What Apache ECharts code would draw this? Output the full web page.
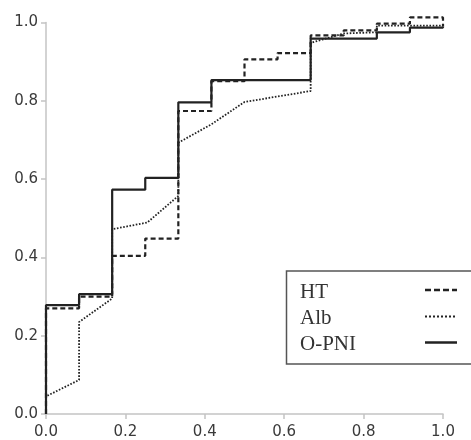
<!DOCTYPE html>
<html lang="en" style="height: 100%">
<head>
  <meta charset="utf-8">
</head>
<body style="height: 100%; margin: 0; background: #fff">
  <div id="container" style="width: 471px; height: 440px"></div>

  <script type="text/javascript" src="https://fastly.jsdelivr.net/npm/echarts@6/dist/echarts.min.js"></script>
  <script type="text/javascript">
    // axis ticks
    var axisTicks = [0, 0.2, 0.4, 0.6, 0.8, 1.0];

    // HT : step points (x where the step happens, new y)
    var htX = [0, 0, 1/12, 2/12, 3/12, 4/12, 5/12, 6/12, 7/12, 8/12, 9/12, 10/12, 11/12, 1];
    var htY = [0, 0.270, 0.300, 0.404, 0.448, 0.774, 0.850, 0.906, 0.922, 0.967, 0.980, 0.997, 1.013, 0.990];

    // O-PNI : step points
    var opniX = [0, 0, 1/12, 2/12, 3/12, 4/12, 5/12, 8/12, 10/12, 11/12, 1];
    var opniY = [0, 0.278, 0.306, 0.573, 0.603, 0.796, 0.853, 0.959, 0.975, 0.987, 0.990];

    // Alb : polyline (ties give sloped parts)
    var albX = [0, 0, 1/12, 1/12, 2/12, 2/12, 0.255, 4/12, 4/12, 5/12, 0.5, 8/12, 8/12, 9/12, 10/12, 10/12, 1];
    var albY = [0, 0.045, 0.087, 0.235, 0.295, 0.472, 0.489, 0.557, 0.693, 0.740, 0.797, 0.825, 0.948, 0.972, 0.975, 0.992, 0.992];

    var legendNames = ['HT', 'Alb', 'O-PNI'];

    function pairs(xs, ys) {
      return xs.map(function (x, i) { return [x, ys[i]]; });
    }

    var lineColor = '#222';
    var axisColor = '#c4c4c4';
    var labelStyle = {
      color: '#3a3a3a',
      fontFamily: 'DejaVu Sans',
      fontSize: 15,
      formatter: function (v) { return v.toFixed(1); }
    };

    var dom = document.getElementById('container');
    var myChart = echarts.init(dom, null, { renderer: 'canvas' });

    var option = {
      animation: false,
      backgroundColor: '#fff',
      grid: { left: 46, top: 22.5, width: 397, height: 392.5 },
      xAxis: {
        type: 'value',
        min: axisTicks[0],
        max: axisTicks[axisTicks.length - 1],
        interval: 0.2,
        axisLine: { show: true, lineStyle: { color: axisColor, width: 1.5 } },
        axisTick: { show: true, length: 5, lineStyle: { color: axisColor, width: 1.5 } },
        axisLabel: Object.assign({ margin: 11 }, labelStyle),
        splitLine: { show: false }
      },
      yAxis: {
        type: 'value',
        min: axisTicks[0],
        max: axisTicks[axisTicks.length - 1],
        interval: 0.2,
        axisLine: { show: true, lineStyle: { color: axisColor, width: 1.5 } },
        axisTick: { show: true, length: 5, lineStyle: { color: axisColor, width: 1.5 } },
        axisLabel: Object.assign({ margin: 8 }, labelStyle),
        splitLine: { show: false }
      },
      series: [
        {
          name: legendNames[0],
          type: 'line',
          step: 'end',
          clip: false,
          showSymbol: false,
          data: pairs(htX, htY),
          lineStyle: { color: lineColor, width: 2.2, type: [5, 3] },
          z: 3
        },
        {
          name: legendNames[1],
          type: 'line',
          clip: false,
          showSymbol: false,
          data: pairs(albX, albY),
          lineStyle: { color: lineColor, width: 1.8, type: [1.6, 1.6] },
          z: 2
        },
        {
          name: legendNames[2],
          type: 'line',
          step: 'end',
          clip: false,
          showSymbol: false,
          data: pairs(opniX, opniY),
          lineStyle: { color: lineColor, width: 2.2 },
          z: 4
        }
      ],
      graphic: [
        {
          type: 'rect',
          shape: { x: 286.5, y: 271, width: 200, height: 93 },
          style: { fill: '#fff', stroke: '#555', lineWidth: 1.5 },
          z: 10
        },
        {
          type: 'text', left: 300, top: 282, z: 11,
          style: { text: legendNames[0], font: '21px "Liberation Serif"', fill: '#333' }
        },
        {
          type: 'text', left: 300, top: 308, z: 11,
          style: { text: legendNames[1], font: '21px "Liberation Serif"', fill: '#333' }
        },
        {
          type: 'text', left: 300, top: 334, z: 11,
          style: { text: legendNames[2], font: '21px "Liberation Serif"', fill: '#333' }
        },
        {
          type: 'line', z: 11,
          shape: { x1: 425, y1: 290, x2: 457, y2: 290 },
          style: { stroke: lineColor, lineWidth: 2.5, lineDash: [6, 3] }
        },
        {
          type: 'line', z: 11,
          shape: { x1: 425, y1: 316.5, x2: 457, y2: 316.5 },
          style: { stroke: lineColor, lineWidth: 2, lineDash: [2, 2] }
        },
        {
          type: 'line', z: 11,
          shape: { x1: 425, y1: 342.5, x2: 457, y2: 342.5 },
          style: { stroke: lineColor, lineWidth: 2.5 }
        }
      ]
    };

    myChart.setOption(option);
    window.addEventListener('resize', myChart.resize);
  </script>
</body>
</html>
